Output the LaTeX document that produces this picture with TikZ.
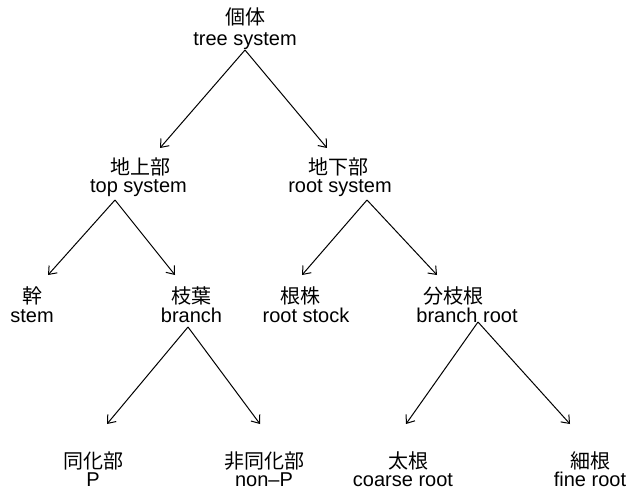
\documentclass[tikz,border=0pt]{standalone}
\usepackage{fontspec}
\setmainfont{Liberation Sans}
\newfontfamily\cjk{Noto Sans CJK JP}
\usetikzlibrary{arrows.meta}
\begin{document}
\begin{tikzpicture}[x=1pt,y=-1pt,
  jp/.style={anchor=base,inner sep=0pt,font=\cjk\fontsize{20}{20}\selectfont},
  en/.style={anchor=base,inner sep=0pt,font=\fontsize{20}{20}\selectfont},
  arr/.style={-{Straight Barb[length=7pt,width=11pt]},line width=1pt}]
\useasboundingbox (0,0) rectangle (626,489);
% level 1
\node[jp] (J1) at (245,25) {個体};
\node[en] (L1) at (245,46) {tree system};
% level 2
\node[jp] (J2) at (140,175) {地上部};
\node[en] (L2) at (138.5,193) {top system};
\node[jp] (J3) at (338,175) {地下部};
\node[en] (L3) at (340,193) {root system};
% level 3
\node[jp] (J4) at (32,303) {幹};
\node[en] (L4) at (32,322) {stem};
\node[jp] (J5) at (191,303) {枝葉};
\node[en] (L5) at (191.5,322) {branch};
\node[jp] (J6) at (300,303) {根株};
\node[en] (L6) at (306,322) {root stock};
\node[jp] (J7) at (453,303) {分枝根};
\node[en] (L7) at (467,322) {branch root};
% level 4
\node[jp] (J8) at (93,468) {同化部};
\node[en] (L8) at (93,486) {P};
\node[jp] (J9) at (264,468) {非同化部};
\node[en] (L9) at (264,486) {non–P};
\node[jp] (J10) at (408,468) {太根};
\node[en] (L10) at (403,486) {coarse root};
\node[jp] (J11) at (590,468) {細根};
\node[en] (L11) at (590,486) {fine root};
% connectors
\draw[arr] ([shift={(0,4)}]L1.base) -- ([shift={(20,-27)}]J2.base);
\draw[arr] ([shift={(0,4)}]L1.base) -- ([shift={(-11,-27)}]J3.base);
\draw[arr] ([shift={(-23.5,7)}]L2.base) -- ([shift={(16,-28)}]J4.base);
\draw[arr] ([shift={(-23.5,7)}]L2.base) -- ([shift={(-16,-28)}]J5.base);
\draw[arr] ([shift={(27,7)}]L3.base) -- ([shift={(2,-28)}]J6.base);
\draw[arr] ([shift={(27,7)}]L3.base) -- ([shift={(-16,-28)}]J7.base);
\draw[arr] ([shift={(-3.5,5)}]L5.base) -- ([shift={(14,-44)}]J8.base);
\draw[arr] ([shift={(-3.5,5)}]L5.base) -- ([shift={(-4,-44)}]J9.base);
\draw[arr] ([shift={(11,0)}]L7.base) -- ([shift={(-2,-44)}]J10.base);
\draw[arr] ([shift={(11,0)}]L7.base) -- ([shift={(-20,-44)}]J11.base);
\end{tikzpicture}
\end{document}
